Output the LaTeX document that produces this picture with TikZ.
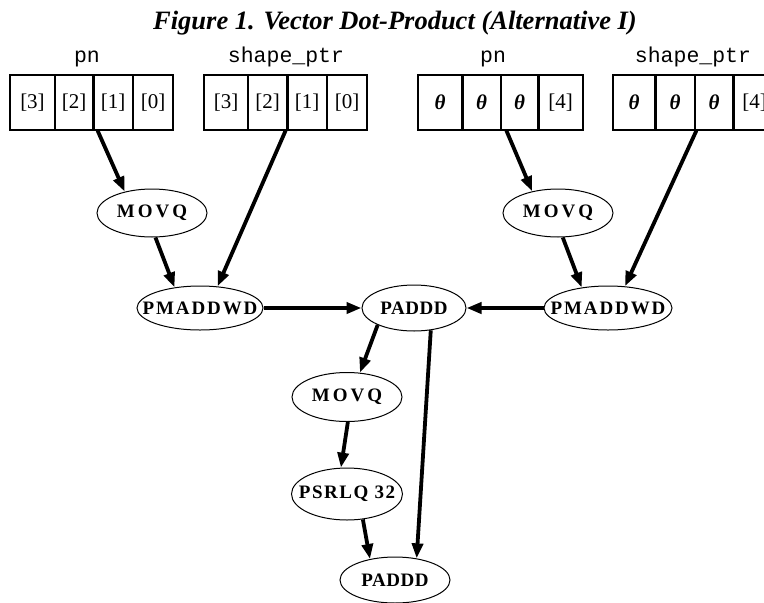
\documentclass[tikz,border=0pt]{standalone}
\usepackage{fontspec}
\setmainfont{Liberation Serif}
\newfontfamily\monofam{Liberation Mono}
\usetikzlibrary{shapes.geometric,arrows.meta}
% operation names may run past their ellipse, as in the original drawing
\newcommand\optext[2][0]{\makebox[0pt][c]{\addfontfeature{LetterSpace=#1}#2}}
\begin{document}
\begin{tikzpicture}[x=1pt,y=-1pt,
  cell/.style={draw, line width=1.2pt, rectangle, minimum height=55pt,
    inner sep=0pt, font=\fontsize{21}{21}\selectfont},
  divider/.style={line width=3pt},
  op/.style={draw, ellipse, line width=1pt, inner sep=0pt,
    font=\fontsize{19}{19}\selectfont\bfseries},
  flow/.style={line width=3.8pt, -{Triangle[length=15pt,width=11pt]}},
  arrname/.style={font=\monofam\fontsize{21.5}{21.5}\selectfont, anchor=base},
  title/.style={font=\fontsize{26.5}{30}\selectfont\bfseries\itshape, anchor=base},
]
\clip (0,0) rectangle (764,603);

% heading
\node[title] (head) at (395,29) {Figure 1. Vector Dot-Product (Alternative I)};

% array names
\node[arrname] (npa) at (87,62) {pn};
\node[arrname] (nsa) at (286,62) {shape\_ptr};
\node[arrname] (npb) at (493,62) {pn};
\node[arrname] (nsb) at (693,62) {shape\_ptr};

% pn, first pass
\node[cell, minimum width=45pt] (pa1) at (32.5,102.5) {[3]};
\node[cell, minimum width=38pt] (pa2) at (74,102.5) {[2]};
\node[cell, minimum width=40pt] (pa3) at (113,102.5) {[1]};
\node[cell, minimum width=40pt] (pa4) at (153,102.5) {[0]};
% shape_ptr, first pass
\node[cell, minimum width=44pt] (sa1) at (226,102.5) {[3]};
\node[cell, minimum width=39pt] (sa2) at (267.5,102.5) {[2]};
\node[cell, minimum width=40pt] (sa3) at (307,102.5) {[1]};
\node[cell, minimum width=40pt] (sa4) at (347,102.5) {[0]};
% pn, second pass
\node[cell, minimum width=44pt] (pb1) at (440,102.5) {\textbf{\textit{θ}}};
\node[cell, minimum width=39pt] (pb2) at (481.5,102.5) {\textbf{\textit{θ}}};
\node[cell, minimum width=37pt] (pb3) at (519.5,102.5) {\textbf{\textit{θ}}};
\node[cell, minimum width=45pt] (pb4) at (560.5,102.5) {[4]};
% shape_ptr, second pass
\node[cell, minimum width=42pt] (sb1) at (634,102.5) {\textbf{\textit{θ}}};
\node[cell, minimum width=40pt] (sb2) at (675,102.5) {\textbf{\textit{θ}}};
\node[cell, minimum width=38pt] (sb3) at (714,102.5) {\textbf{\textit{θ}}};
\node[cell, minimum width=43pt] (sb4) at (754.5,102.5) {[4]};

% heavy separators between element pairs
\draw[divider] (pa2.north east) -- (pa2.south east);
\draw[divider] (sa2.north east) -- (sa2.south east);
\draw[divider] (pb1.north east) -- (pb1.south east);
\draw[divider] (pb3.north east) -- (pb3.south east);
\draw[divider] (sb1.north east) -- (sb1.south east);
\draw[divider] (sb3.north east) -- (sb3.south east);

% instructions
\node[op, minimum width=110pt, minimum height=48pt] (mvL) at (152,213) {\optext[16]{MOVQ}};
\node[op, minimum width=126pt, minimum height=44pt] (pmL) at (200,308) {\optext[10]{PMADDWD}};
\node[op, minimum width=104pt, minimum height=46pt] (pd) at (414,308) {\optext[3]{PADDD}};
\node[op, minimum width=110pt, minimum height=48pt] (mvR) at (558,213) {\optext[16]{MOVQ}};
\node[op, minimum width=128pt, minimum height=44pt] (pmR) at (608,308) {\optext[10]{PMADDWD}};
\node[op, minimum width=110pt, minimum height=49pt] (mv2) at (347,397) {\optext[16]{MOVQ}};
\node[op, minimum width=111pt, minimum height=52pt] (ps) at (347,494) {\optext[8]{PSRLQ 32}};
\node[op, minimum width=110pt, minimum height=46pt] (pd2) at (395,580) {\optext[3]{PADDD}};

% data flow
\draw[flow] ([xshift=4pt]pa2.south east) -- (mvL.142);
\draw[flow] ([xshift=-2pt]sa2.south east) -- (pmL.51);
\draw[flow] (mvL.278) -- (pmL.141);
\draw[flow] (pmL.east) -- (pd.west);
\draw[flow] ([xshift=6pt]pb3.south west) -- (mvR.140);
\draw[flow] ([xshift=2pt]sb3.south west) -- (pmR.52);
\draw[flow] (mvR.281) -- (pmR.142);
\draw[flow] (pmR.west) -- (pd.east);
\draw[flow] (pd.205) -- (mv2.62);
\draw[flow] (mv2.272) -- (ps.103);
\draw[flow] (ps.302) -- (pd2.140);
\draw[flow] (pd.307) -- (pd2.45);
\end{tikzpicture}
\end{document}
